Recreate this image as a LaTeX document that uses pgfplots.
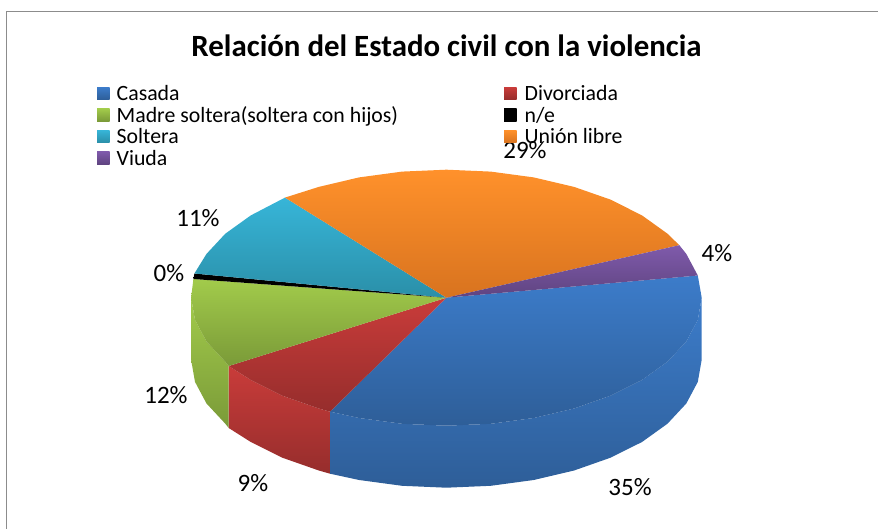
\documentclass[border=0pt]{standalone}
\usepackage{fontspec}
\setmainfont{Carlito}
\usepackage{pgfplots}
\pgfplotsset{compat=1.18}
\definecolor{frameg}{HTML}{8C8C8C}
\definecolor{blueT}{HTML}{3C7CCA}\definecolor{blueB}{HTML}{2E5E98}
\definecolor{redT}{HTML}{C93C3A}\definecolor{redB}{HTML}{962D2C}
\definecolor{greenT}{HTML}{A2CB4B}\definecolor{greenB}{HTML}{7A9A38}
\definecolor{tealT}{HTML}{37B5D8}\definecolor{tealB}{HTML}{2A8FA8}
\definecolor{orangeT}{HTML}{FF912B}\definecolor{orangeB}{HTML}{D8731F}
\definecolor{purpleT}{HTML}{7F5AAB}\definecolor{purpleB}{HTML}{5F4480}
\pgfplotsset{
  slice/.style n args={2}{shade,draw=none,no markers,top color=#1,bottom color=#2,
    legend image code/.code={\shade[top color=#1,bottom color=#2] (0pt,-3.5pt) rectangle (12.5pt,9pt);}},
}
\tikzset{lab/.style={font=\fontsize{25}{27}\selectfont,anchor=base,inner sep=0pt}}
\begin{document}
\begin{tikzpicture}
\useasboundingbox (0,0) rectangle (878pt,529pt);
\begin{axis}[
  at={(0,0)},anchor=south west,
  scale only axis, width=878pt, height=529pt,
  xmin=0, xmax=878, ymin=0, ymax=529, y dir=reverse,
  hide axis, clip=true,
  title={\fontsize{30.9}{32}\selectfont\bfseries Relación del Estado civil con la violencia},
  title style={at={(446.5/878,1-52/529)},anchor=center,inner sep=0pt},
  legend columns=2,
  legend cell align=left,
  legend style={at={(97/878,1-85.5/529)},anchor=north west,draw=none,fill=none,inner sep=0pt,
    font=\fontsize{21.8}{23}\selectfont,row sep=0.5pt,
    /tikz/column 1/.style={column sep=7pt},
    /tikz/column 3/.style={column sep=8pt},
    /tikz/column 2/.style={column sep=106pt},
    nodes={inner sep=0pt,text height=15pt,text depth=6pt}},
]
% frame
\addplot[forget plot,frameg,line width=1.2pt] coordinates {(6.5,529)(6.5,11.5)(878,11.5)};
% side walls: Casada, Divorciada, Madre soltera
\addplot[forget plot,slice={blueT}{blueB}] coordinates {
 (330,411.7)(359.1,418.0)(402.1,423.8)(446.4,425.7)(490.7,423.8)(533.7,418.0)(574.1,408.5)(610.5,395.7)(642.0,380.0)(667.5,361.7)(686.3,341.5)(697.8,319.9)(701.7,297.7)
 (701.7,359.7)(697.8,381.9)(686.3,403.5)(667.5,423.7)(642.0,442.0)(610.5,457.7)(574.1,470.5)(533.7,480.0)(490.7,485.8)(446.4,487.7)(402.1,485.8)(359.1,480.0)(330,473.7)} -- cycle;
\addplot[forget plot,slice={redT}{redB}] coordinates {
 (228.7,366)(250.8,380.0)(282.3,395.7)(318.8,408.5)(330,411.7)
 (330,473.7)(318.8,470.5)(282.3,457.7)(250.8,442.0)(228.7,428)} -- cycle;
\addplot[forget plot,slice={greenT}{greenB}] coordinates {
 (191.1,297.7)(195.0,319.9)(206.5,341.5)(225.3,361.7)(228.7,366)
 (228.7,428)(225.3,423.7)(206.5,403.5)(195.0,381.9)(191.1,359.7)} -- cycle;
% top faces
\addplot[slice={blueT}{blueB}] coordinates {
 (446.4,297.7)(697.8,275.5)(701.7,297.7)(697.8,319.9)(686.3,341.5)(667.5,361.7)(642.0,380.0)(610.5,395.7)(574.1,408.5)(533.7,418.0)(490.7,423.8)(446.4,425.7)(402.1,423.8)(359.1,418.0)(330,411.7)} -- cycle;
\addlegendentry{Casada}
\addplot[slice={redT}{redB}] coordinates {
 (446.4,297.7)(330,411.7)(318.8,408.5)(282.3,395.7)(250.8,380.0)(228.7,366)} -- cycle;
\addlegendentry{Divorciada}
\addplot[slice={greenT}{greenB}] coordinates {
 (446.4,297.7)(228.7,366)(225.3,361.7)(206.5,341.5)(195.0,319.9)(191.1,297.7)(193.4,279)} -- cycle;
\addlegendentry{Madre soltera(soltera con hijos)}
\addplot[slice={black}{black}] coordinates {
 (446.4,297.7)(193.4,279)(194.4,273.5)} -- cycle;
\addlegendentry{n/e}
\addplot[slice={tealT}{tealB}] coordinates {
 (446.4,297.7)(194.4,273.5)(206.5,253.9)(225.3,233.7)(250.8,215.4)(285,197.6)} -- cycle;
\addlegendentry{Soltera}
\addplot[slice={orangeT}{orangeB}] coordinates {
 (446.4,297.7)(285,197.6)(318.8,186.9)(359.1,177.4)(402.1,171.6)(446.4,169.7)(490.7,171.6)(533.7,177.4)(574.1,186.9)(610.5,199.6)(642.0,215.4)(667.5,233.7)(679.3,245.2)} -- cycle;
\addlegendentry{Unión libre}
\addplot[slice={purpleT}{purpleB}] coordinates {
 (446.4,297.7)(679.3,245.2)(686.3,253.9)(697.8,275.5)} -- cycle;
\addlegendentry{Viuda}
% percentage labels
\node[lab] at (axis cs:630,495) {35\%};
\node[lab] at (axis cs:253,491) {9\%};
\node[lab] at (axis cs:166,403) {12\%};
\node[lab] at (axis cs:169,282) {0\%};
\node[lab] at (axis cs:198,227) {11\%};
\node[lab] at (axis cs:525,159) {29\%};
\node[lab] at (axis cs:717,262) {4\%};
\end{axis}
\end{tikzpicture}
\end{document}
